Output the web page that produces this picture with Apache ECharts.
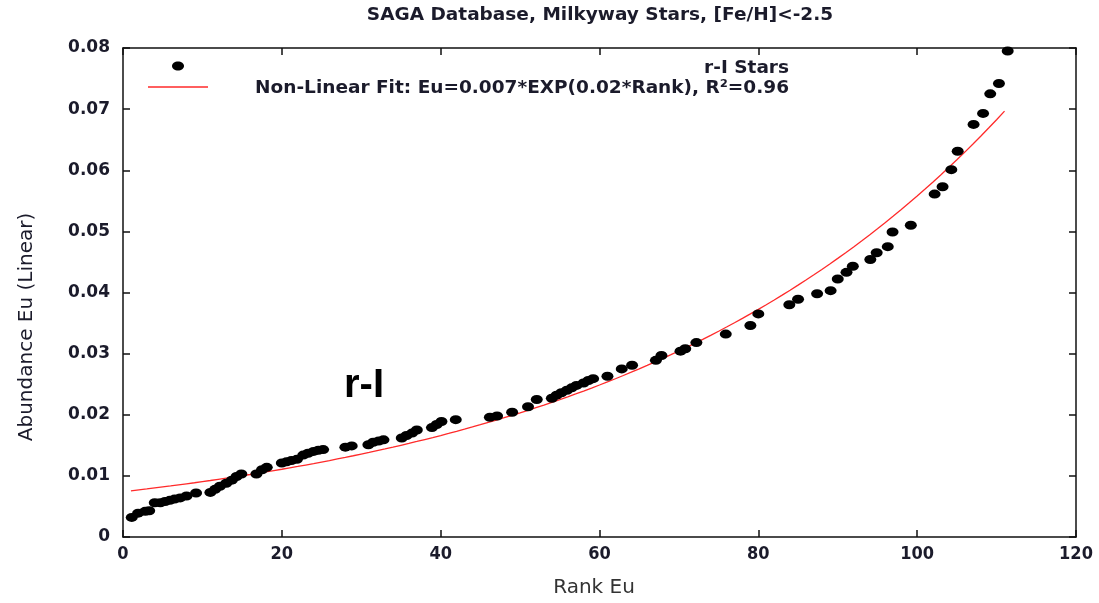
<!DOCTYPE html>
<html>
<head>
<meta charset="utf-8">
<title>SAGA Database, Milkyway Stars</title>
<script src="https://cdn.jsdelivr.net/npm/echarts@6/dist/echarts.min.js"></script>
<style>
  html, body { margin: 0; padding: 0; background: #ffffff; }
  #chart { width: 1099px; height: 603px; }
</style>
</head>
<body>
<div id="chart"></div>
<script>
// Eu rank of each r-I star
const ranks = [
  1.1, 1.9, 2.8, 3.3, 4.0, 4.7, 5.3, 5.9, 6.5, 7.2,
  8.0, 9.2, 11.0, 11.6, 12.2, 13.0, 13.7, 14.3, 14.9, 16.8,
  17.5, 18.1, 20.0, 20.6, 21.2, 21.9, 22.7, 23.3, 24.0, 24.6,
  25.2, 28.0, 28.8, 30.9, 31.5, 32.2, 32.8, 35.1, 35.7, 36.4,
  37.0, 38.9, 39.5, 40.1, 41.9, 46.2, 47.1, 49.0, 51.0, 52.1,
  54.0, 54.6, 55.2, 55.9, 56.5, 57.1, 58.0, 58.6, 59.2, 61.0,
  62.8, 64.1, 67.1, 67.8, 70.2, 70.8, 72.2, 75.9, 79.0, 80.0,
  83.9, 85.0, 87.4, 89.1, 90.0, 91.1, 91.9, 94.1, 94.9, 96.3,
  96.9, 99.2, 102.2, 103.2, 104.3, 105.1, 107.1, 108.3, 109.2, 110.3,
  111.4
];

// Linear Eu abundance for the same stars
const abundances = [
  0.0032, 0.0039, 0.0042, 0.0043, 0.0056, 0.0056, 0.0058, 0.0060, 0.0062, 0.0064,
  0.0067, 0.0072, 0.0073, 0.0078, 0.0083, 0.0088, 0.0093, 0.0099, 0.0103, 0.0103,
  0.0110, 0.0114, 0.0121, 0.0123, 0.0125, 0.0127, 0.0134, 0.0137, 0.0140, 0.0142,
  0.0143, 0.0147, 0.0149, 0.0151, 0.0155, 0.0157, 0.0159, 0.0162, 0.0166, 0.0170,
  0.0175, 0.0179, 0.0184, 0.0189, 0.0192, 0.0196, 0.0198, 0.0204, 0.0213, 0.0225,
  0.0227, 0.0232, 0.0236, 0.0240, 0.0244, 0.0248, 0.0252, 0.0256, 0.0259, 0.0263,
  0.0275, 0.0281, 0.0289, 0.0297, 0.0304, 0.0308, 0.0318, 0.0332, 0.0346, 0.0365,
  0.0380, 0.0389, 0.0398, 0.0403, 0.0422, 0.0433, 0.0443, 0.0454, 0.0465, 0.0475,
  0.0499, 0.0510, 0.0561, 0.0573, 0.0601, 0.0631, 0.0675, 0.0693, 0.0725, 0.0742,
  0.0795
];

// Non-linear fit Eu = A * exp(B * Rank), drawn over ranks FIT_FROM..FIT_TO
const FIT_A = 0.0074;
const FIT_B = 0.0202;
const FIT_FROM = 1;
const FIT_TO = 111;

const xTicks = [0, 20, 40, 60, 80, 100, 120];
const yTicks = [0, 0.01, 0.02, 0.03, 0.04, 0.05, 0.06, 0.07, 0.08];

const titleText = 'SAGA Database, Milkyway Stars, [Fe/H]<-2.5';
const xName = 'Rank Eu';
const yName = 'Abundance Eu (Linear)';
const starsLabel = 'r-I Stars';
const fitLabel = 'Non-Linear Fit: Eu=0.007*EXP(0.02*Rank), R\u00B2=0.96';
const groupLabel = 'r-I';

const points = ranks.map((r, i) => [r, abundances[i]]);
const fitCurve = [];
for (let r = FIT_FROM; r <= FIT_TO; r += 1) {
  fitCurve.push([r, FIT_A * Math.exp(FIT_B * r)]);
}

const SANS = '"DejaVu Sans", "Liberation Sans", sans-serif';
const COND = '"DejaVu Sans Condensed", "DejaVu Sans", sans-serif';
const ARIAL = '"Liberation Sans", Arial, sans-serif';
const INK = '#1b1b2b';
const FIT_RED = '#ff2a2a';

const frameLine = { show: true, onZero: false, lineStyle: { color: '#111111', width: 1.5 } };
const innerTick = { show: true, inside: true, length: 7, lineStyle: { color: '#111111', width: 1.5 } };

const chart = echarts.init(document.getElementById('chart'), null, { renderer: 'canvas' });

chart.setOption({
  animation: false,
  backgroundColor: '#ffffff',
  grid: { left: 123, right: 23, top: 48, bottom: 66, containLabel: false },
  xAxis: [
    {
      type: 'value',
      position: 'bottom',
      min: xTicks[0],
      max: xTicks[xTicks.length - 1],
      interval: xTicks[1] - xTicks[0],
      axisLine: frameLine,
      axisTick: innerTick,
      splitLine: { show: false },
      axisLabel: {
        fontFamily: COND, fontSize: 18, fontWeight: 'bold', color: INK, margin: 8
      }
    },
    {
      type: 'value',
      position: 'top',
      min: xTicks[0],
      max: xTicks[xTicks.length - 1],
      interval: xTicks[1] - xTicks[0],
      axisLine: frameLine,
      axisTick: innerTick,
      axisLabel: { show: false },
      splitLine: { show: false }
    }
  ],
  yAxis: [
    {
      type: 'value',
      position: 'left',
      min: yTicks[0],
      max: yTicks[yTicks.length - 1],
      interval: 0.01,
      axisLine: frameLine,
      axisTick: innerTick,
      splitLine: { show: false },
      axisLabel: {
        fontFamily: SANS, fontSize: 17, fontWeight: 'bold', color: INK, margin: 13,
        formatter: v => (Math.abs(v) < 1e-9 ? '0' : v.toFixed(2))
      }
    },
    {
      type: 'value',
      position: 'right',
      min: yTicks[0],
      max: yTicks[yTicks.length - 1],
      interval: 0.01,
      axisLine: frameLine,
      axisTick: innerTick,
      axisLabel: { show: false },
      splitLine: { show: false }
    }
  ],
  series: [
    {
      name: fitLabel,
      type: 'line',
      xAxisIndex: 0,
      yAxisIndex: 0,
      data: fitCurve,
      showSymbol: false,
      smooth: false,
      silent: true,
      lineStyle: { color: FIT_RED, width: 1.3 },
      z: 3
    },
    {
      name: starsLabel,
      type: 'scatter',
      xAxisIndex: 0,
      yAxisIndex: 0,
      data: points,
      symbol: 'circle',
      symbolSize: [12, 9],
      silent: true,
      itemStyle: { color: '#000000', opacity: 1 },
      z: 4
    }
  ],
  graphic: [
    // chart title
    {
      type: 'text',
      x: 600,
      y: 15,
      style: {
        text: titleText, textAlign: 'center', textVerticalAlign: 'middle',
        font: 'bold 18.5px ' + SANS, fill: INK
      },
      silent: true
    },
    // axis titles
    {
      type: 'text',
      x: 594,
      y: 588,
      style: {
        text: xName, textAlign: 'center', textVerticalAlign: 'middle',
        font: '20px ' + SANS, fill: '#333333'
      },
      silent: true
    },
    {
      type: 'text',
      x: 27,
      y: 327,
      rotation: Math.PI / 2,
      style: {
        text: yName, textAlign: 'center', textVerticalAlign: 'middle',
        font: '20px ' + SANS, fill: INK
      },
      silent: true
    },
    // key: dot marker and its label
    {
      type: 'ellipse',
      shape: { cx: 178, cy: 66, rx: 6, ry: 4.5 },
      style: { fill: '#000000' },
      silent: true
    },
    {
      type: 'text',
      x: 789,
      y: 68,
      style: {
        text: starsLabel, textAlign: 'right', textVerticalAlign: 'middle',
        font: 'bold 18.5px ' + SANS, fill: INK
      },
      silent: true
    },
    // key: fit line sample and its label
    {
      type: 'line',
      shape: { x1: 148, y1: 87, x2: 208, y2: 87 },
      style: { stroke: FIT_RED, lineWidth: 1.3 },
      silent: true
    },
    {
      type: 'text',
      x: 789,
      y: 88,
      style: {
        text: fitLabel, textAlign: 'right', textVerticalAlign: 'middle',
        font: 'bold 18.5px ' + SANS, fill: INK
      },
      silent: true
    },
    // group annotation inside the plot
    {
      type: 'text',
      x: 364,
      y: 386,
      style: {
        text: groupLabel, textAlign: 'center', textVerticalAlign: 'middle',
        font: 'bold 40px ' + ARIAL, fill: '#000000'
      },
      silent: true
    }
  ]
});
</script>
</body>
</html>
